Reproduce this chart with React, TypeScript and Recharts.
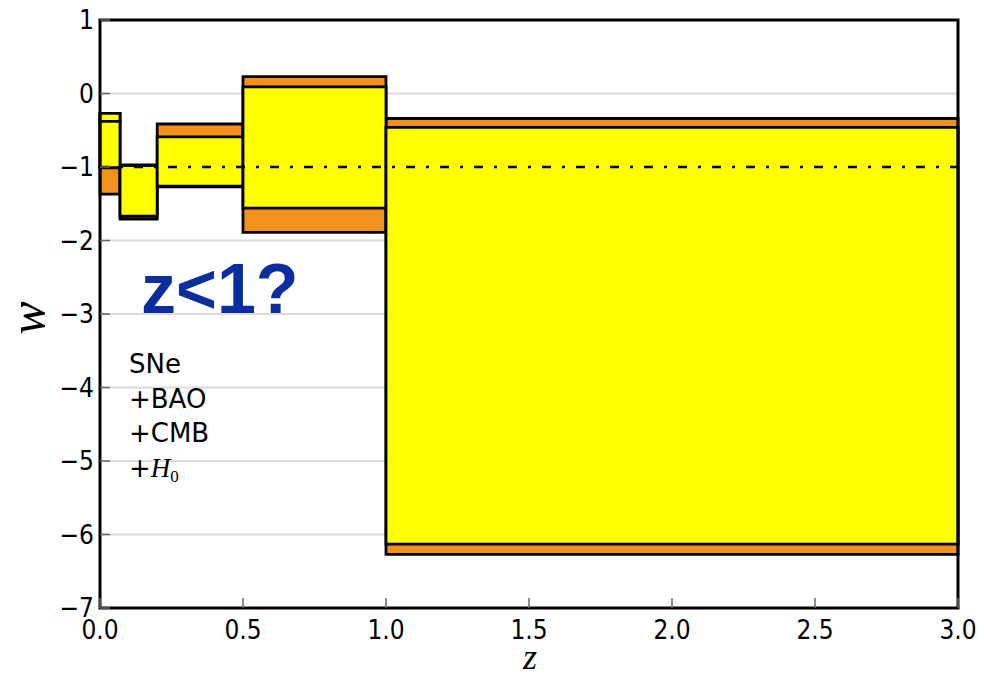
import React from 'react';
import {
  ComposedChart,
  XAxis,
  YAxis,
  CartesianGrid,
  ReferenceArea,
  ReferenceLine,
  Customized,
} from 'recharts';

// ---- data ----
const binEdges = [0, 0.07, 0.2, 0.5, 1.0, 3.0];
const outerLow = [-1.37, -1.71, -1.27, -1.89, -6.27];
const innerLow = [-1.01, -1.67, -1.26, -1.56, -6.13];
const innerHigh = [-0.38, -0.98, -0.59, 0.09, -0.46];
const outerHigh = [-0.27, -0.97, -0.415, 0.23, -0.34];
const upperBandIsInner = [true, false, false, false, false];
const xTicks = [0, 0.5, 1.0, 1.5, 2.0, 2.5, 3.0];
const yTicks = [-7, -6, -5, -4, -3, -2, -1, 0, 1];
const fiducialW = -1;
const probeLines = ['SNe', '+BAO', '+CMB'];
const annotation = 'z<1?';

// ---- styles ----
const ORANGE = '#F2911B';
const YELLOW = '#FFFF00';
const EDGE = '#000000';
const TICK_FONT = "'DejaVu Sans Condensed', 'DejaVu Sans', sans-serif";
const LEGEND_FONT = "'DejaVu Sans', sans-serif";
const TICK_SIZE = 26;
const Y_MARGIN = 6;
const X_MARGIN = 12;

const chartData = binEdges.map((z) => ({ z }));

const fmt = (v: number, digits: number) => {
  const s = v.toFixed(digits);
  return s.replace('-', '\u2212');
};

const YTick = (props: any) => {
  const { x, y, payload } = props;
  const ax = x + Y_MARGIN;
  return (
    <g>
      <line x1={ax} x2={ax + 10} y1={y} y2={y} stroke="#666" strokeWidth={1.5} />
      <text
        x={x}
        y={y}
        textAnchor="end"
        dominantBaseline="central"
        fontFamily={TICK_FONT}
        fontStretch="condensed"
        fontSize={TICK_SIZE}
        fill="#000"
      >
        {fmt(payload.value, 0)}
      </text>
    </g>
  );
};

const XTick = (props: any) => {
  const { x, y, payload } = props;
  const ay = y - X_MARGIN;
  return (
    <g>
      <line x1={x} x2={x} y1={ay} y2={ay - 10} stroke="#666" strokeWidth={1.5} />
      <text
        x={x}
        y={y + 19}
        textAnchor="middle"
        fontFamily={TICK_FONT}
        fontStretch="condensed"
        fontSize={TICK_SIZE}
        fill="#000"
      >
        {fmt(payload.value, 1)}
      </text>
    </g>
  );
};

const Annotations = () => (
  <g>
    <text
      x={27}
      y={318}
      transform="rotate(-90 27 318)"
      textAnchor="middle"
      dominantBaseline="central"
      fontFamily="'Liberation Serif', serif"
      fontStyle="italic"
      fontSize={50}
      fill="#000"
    >
      w
    </text>
    <text
      x={530}
      y={669}
      textAnchor="middle"
      fontFamily="'Liberation Serif', serif"
      fontStyle="italic"
      fontSize={36}
      fill="#000"
    >
      z
    </text>
    <text
      x={141}
      y={313}
      fontFamily="'Liberation Sans', Arial, sans-serif"
      fontWeight="bold"
      fontSize={70}
      fill="#0B2E9E"
    >
      {annotation}
    </text>
    {probeLines.map((t, i) => (
      <text
        key={t}
        x={129}
        y={373 + i * 34.5}
        fontFamily={LEGEND_FONT}
        fontSize={26}
        fill="#000"
      >
        {t}
      </text>
    ))}
    <text x={129} y={476.5} fontFamily={LEGEND_FONT} fontSize={26} fill="#000">
      +
      <tspan fontFamily="'Liberation Serif', serif" fontStyle="italic" fontSize={27}>
        H
      </tspan>
      <tspan fontFamily="'Liberation Serif', serif" fontSize={17} dy={5}>
        0
      </tspan>
    </text>
  </g>
);

export default function App() {
  const bins = outerLow.map((_, i) => i);
  return (
    <div style={{ position: 'absolute', left: 0, top: 0, background: '#fff' }}>
      <ComposedChart
        width={984}
        height={677}
        data={chartData}
        margin={{ top: 20, right: 26, bottom: 0, left: 0 }}
      >
        <CartesianGrid vertical={false} stroke="#dcdcdc" strokeWidth={2} />
        <XAxis
          dataKey="z"
          type="number"
          domain={[0, 3]}
          ticks={xTicks}
          height={69}
          axisLine={false}
          tickLine={false}
          tickSize={0}
          tickMargin={X_MARGIN}
          tick={<XTick />}
          allowDataOverflow
        />
        <YAxis
          type="number"
          domain={[-7, 1]}
          ticks={yTicks}
          width={100}
          axisLine={false}
          tickLine={false}
          tickSize={0}
          tickMargin={Y_MARGIN}
          tick={<YTick />}
          allowDataOverflow
        />
        {bins.map((i) => (
          <ReferenceArea
            key={`o${i}`}
            x1={binEdges[i]}
            x2={binEdges[i + 1]}
            y1={outerLow[i]}
            y2={outerHigh[i]}
            fill={ORANGE}
            fillOpacity={1}
            stroke={EDGE}
            strokeWidth={2.8}
            ifOverflow="visible"
          />
        ))}
        {bins.map((i) =>
          upperBandIsInner[i] ? (
            <ReferenceArea
              key={`u${i}`}
              x1={binEdges[i]}
              x2={binEdges[i + 1]}
              y1={innerHigh[i]}
              y2={outerHigh[i]}
              fill={YELLOW}
              fillOpacity={1}
              stroke={EDGE}
              strokeWidth={2.8}
              ifOverflow="visible"
            />
          ) : null
        )}
        {bins.map((i) => (
          <ReferenceArea
            key={`i${i}`}
            x1={binEdges[i]}
            x2={binEdges[i + 1]}
            y1={innerLow[i]}
            y2={innerHigh[i]}
            fill={YELLOW}
            fillOpacity={1}
            stroke={EDGE}
            strokeWidth={2.8}
            ifOverflow="visible"
          />
        ))}
        <ReferenceLine
          y={fiducialW}
          stroke="#000"
          strokeWidth={2.5}
          strokeDasharray="9 11 3 11"
          ifOverflow="visible"
        />
        <ReferenceArea
          x1={0}
          x2={3}
          y1={-7}
          y2={1}
          fill="none"
          fillOpacity={0}
          stroke="#000"
          strokeWidth={3}
          ifOverflow="visible"
        />
        <Customized component={Annotations} />
      </ComposedChart>
    </div>
  );
}
